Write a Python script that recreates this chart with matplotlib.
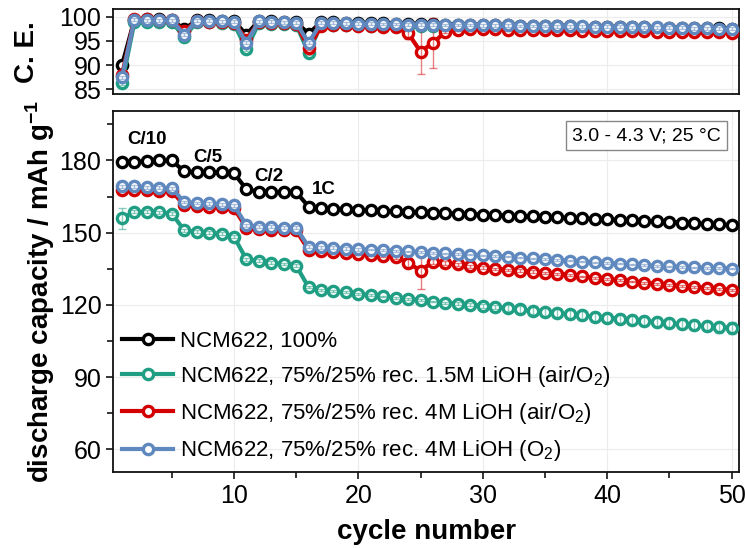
import numpy as np
import matplotlib.pyplot as plt
from matplotlib.lines import Line2D

plt.rcParams['font.family'] = ['Liberation Sans', 'DejaVu Sans']
plt.rcParams['mathtext.default'] = 'regular'

cycles = np.arange(1, 51)

labels = ["NCM622, 100%",
          "NCM622, 75%/25% rec. 1.5M LiOH (air/O$_2$)",
          "NCM622, 75%/25% rec. 4M LiOH (air/O$_2$)",
          "NCM622, 75%/25% rec. 4M LiOH (O$_2$)"]
colors = ["#000000", "#1f9e83", "#d40000", "#5f88bf"]

# discharge capacity (mAh/g)
cap_ref = [179.2, 179.5, 179.6, 180.0, 180.0, 175.4, 175.1, 175.0, 175.0, 174.7,
           168.0, 167.0, 167.0, 166.8, 166.8, 160.8, 160.3, 160.0, 159.8, 159.5,
           159.3, 159.1, 158.9, 158.7, 158.5, 158.3, 158.1, 157.9, 157.7, 157.5,
           157.3, 157.1, 156.9, 156.7, 156.5, 156.3, 156.1, 155.9, 155.7, 155.5,
           155.3, 155.1, 154.9, 154.7, 154.5, 154.2, 153.9, 153.6, 153.4, 153.1]
cap_15M = [155.9, 158.6, 158.6, 158.4, 157.9, 151.0, 150.3, 149.9, 149.6, 148.3,
           138.9, 138.3, 137.5, 137.0, 136.3, 127.3, 126.2, 125.6, 125.2, 124.6,
           124.0, 123.5, 123.0, 122.5, 122.0, 121.4, 120.9, 120.5, 120.1, 119.6,
           119.1, 118.6, 118.1, 117.6, 117.1, 116.6, 116.1, 115.6, 115.1, 114.7,
           114.3, 113.8, 113.3, 112.9, 112.5, 112.0, 111.6, 111.2, 110.8, 110.4]
cap_4M_air = [167.9, 167.9, 167.6, 167.3, 167.2, 161.4, 161.0, 160.8, 160.5, 160.1,
              152.0, 151.4, 151.3, 151.0, 150.9, 142.8, 142.5, 142.1, 141.7, 141.3,
              140.9, 140.5, 139.9, 137.5, 134.2, 137.9, 137.5, 136.8, 136.1, 135.5,
              135.0, 134.6, 134.2, 133.8, 133.4, 133.0, 132.5, 131.8, 131.2, 130.7,
              130.2, 129.7, 129.2, 128.8, 128.4, 127.9, 127.5, 127.1, 126.7, 126.2]
cap_4M_O2 = [169.2, 169.2, 168.9, 168.6, 168.5, 162.7, 162.3, 162.1, 161.8, 161.4,
             153.1, 152.5, 152.4, 152.1, 152.0, 144.1, 143.9, 143.7, 143.4, 143.1,
             142.9, 142.7, 142.4, 142.2, 141.9, 141.6, 141.4, 141.1, 140.9, 140.6,
             140.3, 140.0, 139.6, 139.3, 139.0, 138.7, 138.4, 138.0, 137.7, 137.4,
             137.1, 136.8, 136.5, 136.2, 136.0, 135.8, 135.6, 135.4, 135.3, 135.1]

# standard deviations (None = no bars drawn)
err_ref = None
err_15M = [4.5, 0.6, 0.6, 0.6, 0.6, 0.6, 0.6, 0.6, 0.6, 0.6,
           0.6, 0.6, 0.6, 0.6, 0.6, 0.4, 0.4, 0.4, 0.4, 0.4,
           0.4, 0.4, 0.4, 0.4, 0.4, 0.4, 0.4, 0.5, 0.6, 0.8,
           1.0, 1.2, 1.5, 1.5, 1.6, 1.6, 1.7, 1.7, 1.8, 1.8,
           1.9, 1.9, 2.0, 2.0, 2.1, 2.1, 2.2, 2.2, 2.3, 2.4]
err_4M_air = [0.6, 0.6, 0.6, 0.6, 0.6, 0.6, 0.6, 0.6, 0.6, 0.6,
              0.6, 0.6, 0.6, 0.6, 0.6, 0.6, 0.6, 0.6, 0.6, 0.6,
              0.6, 0.6, 0.8, 2.0, 7.7, 1.0, 0.8, 0.6, 0.6, 0.6,
              0.5, 0.5, 0.5, 0.5, 0.4, 0.4, 0.4, 0.4, 0.4, 0.4,
              0.4, 0.4, 0.4, 0.4, 0.4, 0.4, 0.4, 0.4, 0.4, 0.4]
err_4M_O2 = [0.6] * 20 + [0.3] * 30

# coulombic efficiency (%)
ce_ref = [90.0, 99.4, 99.5, 99.5, 99.4, 97.4, 99.3, 99.3, 99.2, 99.1,
          96.3, 99.2, 99.1, 99.0, 98.9, 96.5, 98.9, 98.9, 98.8, 98.8,
          98.7, 98.7, 98.6, 98.6, 98.5, 98.5, 98.4, 98.4, 98.3, 98.3,
          98.2, 98.2, 98.1, 98.1, 98.0, 98.0, 98.0, 97.9, 97.9, 97.9,
          97.8, 97.8, 97.8, 97.7, 97.7, 97.7, 97.6, 97.6, 97.6, 97.5]
ce_15M = [86.3, 98.9, 98.9, 98.9, 98.9, 95.8, 98.9, 98.9, 98.8, 98.6,
          93.3, 98.7, 98.6, 98.5, 98.4, 92.5, 98.4, 98.3, 98.2, 98.2,
          98.1, 98.1, 98.0, 98.0, 98.0, 98.0, 97.9, 97.9, 97.9, 97.8,
          97.8, 97.8, 97.7, 97.7, 97.7, 97.6, 97.6, 97.6, 97.6, 97.5,
          97.5, 97.5, 97.5, 97.4, 97.4, 97.4, 97.4, 97.3, 97.3, 97.3]
ce_4M_air = [88.0, 99.6, 99.5, 99.4, 99.4, 97.0, 99.1, 99.0, 98.9, 98.8,
             95.3, 98.9, 98.8, 98.7, 98.6, 93.5, 98.0, 98.3, 98.2, 98.1,
             98.0, 97.9, 97.8, 96.6, 92.8, 94.6, 96.9, 97.3, 97.4, 97.4,
             97.4, 97.3, 97.3, 97.3, 97.2, 97.2, 97.2, 97.1, 97.1, 97.1,
             97.0, 97.0, 97.0, 96.9, 96.9, 96.9, 96.8, 96.8, 96.8, 96.7]
ce_4M_O2 = [87.5, 99.4, 99.3, 99.3, 99.3, 96.3, 99.2, 99.2, 99.1, 99.0,
            94.6, 99.1, 99.0, 98.9, 98.8, 94.6, 98.8, 98.8, 98.7, 98.6,
            98.6, 98.5, 98.5, 98.4, 98.4, 98.4, 98.3, 98.3, 98.3, 98.2,
            98.2, 98.2, 98.1, 98.1, 98.1, 98.0, 98.0, 98.0, 97.9, 97.9,
            97.9, 97.8, 97.8, 97.8, 97.7, 97.7, 97.6, 97.6, 97.5, 97.5]
ce_err_air = [0.3] * 23 + [1.1, 4.6, 5.2] + [0.3] * 24
ce_err = [0.3] * 50

caps = [cap_ref, cap_15M, cap_4M_air, cap_4M_O2]
cap_errs = [err_ref, err_15M, err_4M_air, err_4M_O2]
ces = [ce_ref, ce_15M, ce_4M_air, ce_4M_O2]
ce_errs = [None, ce_err, ce_err_air, ce_err]

rates = ["C/10", "C/5", "C/2", "1C"]
rate_x = [3.0, 7.9, 12.8, 17.2]
rate_y = [188.7, 181.0, 173.4, 168.0]

W, H = 745, 548
fig = plt.figure(figsize=(W / 100, H / 100), dpi=100)
ax_ce = fig.add_axes([113.3 / W, (H - 94.3) / H, 625.7 / W, 85.3 / H])
ax = fig.add_axes([113.3 / W, (H - 472.3) / H, 625.7 / W, 361.3 / H])

style = dict(marker='o', mfc='white', ms=7.4, mew=2.4, lw=3.0)

for i in range(4):
    z = 3 + i
    for a, y, e in [(ax_ce, ces[i], ce_errs[i]), (ax, caps[i], cap_errs[i])]:
        a.plot(cycles, y, color=colors[i], zorder=z, **style)
        if e is not None:
            a.errorbar(cycles, y, yerr=e, fmt='none', ecolor=colors[i], alpha=0.5,
                       elinewidth=1.0, capsize=3, capthick=1.0, zorder=z + 0.5)

for a in (ax_ce, ax):
    a.set_xlim(0.3, 50.6)
    a.grid(True, color='#ececec', lw=0.8, zorder=0)
    a.set_axisbelow(True)
    for s in a.spines.values():
        s.set_linewidth(1.3)
        s.set_color('#111111')
    a.tick_params(axis='both', labelsize=18, direction='out', length=5, width=1.1)

ax_ce.set_ylim(84, 101.6)
ax_ce.set_yticks([85, 90, 95, 100])
ax_ce.set_xticks([10, 20, 30, 40, 50])
ax_ce.tick_params(axis='x', length=0, labelbottom=False)
ax_ce.set_ylabel("C. E.", fontsize=20, fontweight='bold')
ax_ce.yaxis.set_label_coords(-0.117, 0.5)

ax.set_ylim(50.5, 200.5)
ax.set_yticks([60, 90, 120, 150, 180])
ax.set_yticks([75, 105, 135, 165, 195], minor=True)
ax.set_xticks([10, 20, 30, 40, 50])
ax.set_xticks([5, 15, 25, 35, 45], minor=True)
ax.tick_params(which='minor', direction='out', length=4, width=1.1)
ax.set_xlabel("cycle number", fontsize=20, fontweight='bold', labelpad=8)
ax.set_ylabel("discharge capacity / mAh g$^{-1}$", fontsize=20, fontweight='bold')
ax.yaxis.set_label_coords(-0.09, 0.5)

for t, x, y in zip(rates, rate_x, rate_y):
    ax.text(x, y, t, fontsize=13.5, fontweight='bold', ha='center', va='center')

ax.text(0.852, 0.932, "3.0 - 4.3 V; 25 °C", transform=ax.transAxes, fontsize=14,
        ha='center', va='center',
        bbox=dict(boxstyle='square,pad=0.3', fc='white', ec='#888888', lw=1))

handles = [Line2D([], [], color=c, **style) for c in colors]
ax.legend(handles, labels, loc='lower left', frameon=False, fontsize=16,
          handlelength=2.3, handletextpad=0.3, labelspacing=0.55, numpoints=1,
          borderaxespad=0.0, bbox_to_anchor=(0.0, 0.0))

fig.savefig("out.png", dpi=100)
